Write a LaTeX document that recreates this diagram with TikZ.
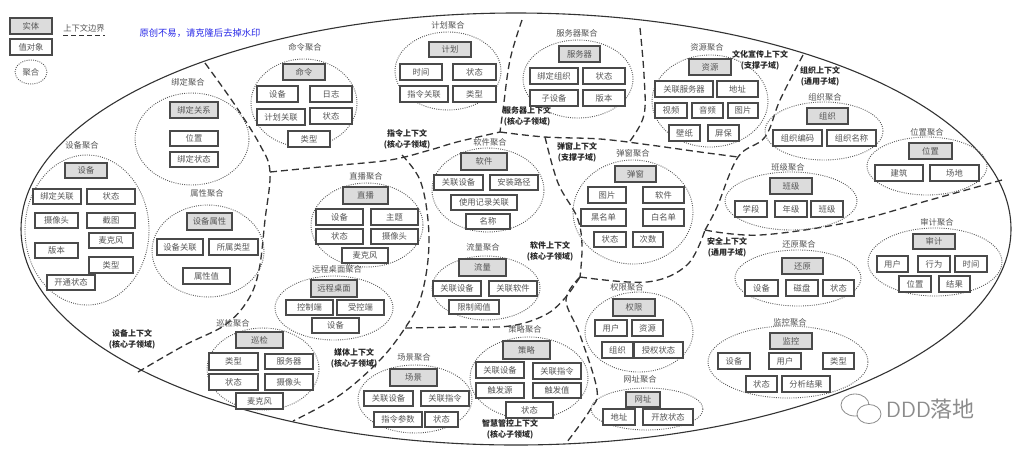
\documentclass[tikz,border=0pt]{standalone}
\usepackage{fontspec}
\newfontfamily\cjk{Noto Sans CJK SC}
\usetikzlibrary{shapes.geometric}
\definecolor{boxline}{HTML}{4A4A4A}
\definecolor{entfill}{HTML}{DCDCDC}
\definecolor{txt}{HTML}{555555}
\definecolor{blu}{HTML}{2A2AE8}
\tikzset{
  bxbase/.style={draw=boxline, line width=1.3pt, inner sep=0pt, text=txt, font=\cjk\fontsize{8.3}{9}\selectfont},
  ent/.style={bxbase, fill=entfill},
  vo/.style={bxbase, fill=white},
  agg/.style={draw=black!65, line width=0.9pt, dash pattern=on 0.9pt off 1.3pt},
  ctx/.style={draw=black!80, line width=1.3pt, dash pattern=on 7pt off 4pt},
  outer/.style={draw=black!80, line width=1.1pt},
  alab/.style={text=txt, font=\cjk\fontsize{8.3}{9}\selectfont, inner sep=0pt},
  clab/.style={text=black!85, font=\cjk\bfseries\fontsize{8}{11}\selectfont, align=center, inner sep=0pt}
}
\newcommand{\bx}[7]{%
  \pgfmathsetmacro\bw{#5-#3}\pgfmathsetmacro\bh{#6-#4}%
  \pgfmathsetmacro\bcx{(#3+#5)/2}\pgfmathsetmacro\bcy{(#4+#6)/2}%
  \node[#1, minimum width=\bw pt, minimum height=\bh pt] (#2) at (\bcx,\bcy) {#7};}
\begin{document}
\begin{tikzpicture}[x=1pt,y=-1pt]
\useasboundingbox (0,0) rectangle (1024,456);
\fill[white] (0,0) rectangle (1024,456);

% legend
\bx{ent}{lg1}{10}{18}{52}{34}{实体}
\bx{vo}{lg2}{10}{39}{52}{55}{值对象}
\draw[agg] (31,72) ellipse [x radius=16, y radius=12];
\node[alab] (lg3) at (31,72) {聚合};
\node[alab] (lg4) at (84,28) {上下文边界};
\draw[ctx, line width=1pt, dash pattern=on 5pt off 3pt] (63,35) -- (105,35);
\node[text=blu, font=\cjk\fontsize{9.3}{10}\selectfont, inner sep=0pt] (wm1) at (200,33) {原创不易，请克隆后去掉水印};

% outer ellipse
\draw[outer] (516,229) ellipse [x radius=495, y radius=216];

% context boundaries
\draw[ctx] plot[smooth, tension=0.6] coordinates {(205,63) (235,105) (260,145) (270,172) (265,220) (259,270) (248,300) (225,325) (185,345) (138,372)};
\draw[ctx] plot[smooth, tension=0.6] coordinates {(270,172) (330,166) (390,160) (430,150) (457,142) (500,132)};
\draw[ctx] plot[smooth, tension=0.6] coordinates {(522,20) (510,60) (503,110) (500,132)};
\draw[ctx] plot[smooth, tension=0.6] coordinates {(500,132) (545,137) (600,139) (650,145) (700,152) (738,157)};
\draw[ctx] plot[smooth, tension=0.6] coordinates {(640,28) (644,75) (644,115) (630,141)};
\draw[ctx] plot[smooth, tension=0.6] coordinates {(402,155) (420,180) (428,220) (428,260) (420,300) (405,328) (380,360) (340,395) (293,421)};
\draw[ctx] plot[smooth, tension=0.6] coordinates {(405,328) (460,327) (510,326) (545,315) (565,298) (580,277)};
\draw[ctx] plot[smooth, tension=0.6] coordinates {(545,137) (558,183) (577,217) (582,245) (580,277)};
\draw[ctx] plot[smooth, tension=0.6] coordinates {(580,277) (566,300) (580,335) (597,390) (590,410) (567,442)};
\draw[ctx] plot[smooth, tension=0.6] coordinates {(580,277) (647,282) (687,265) (705,230)};
\draw[ctx] plot[smooth, tension=0.6] coordinates {(803,55) (780,100) (765,137) (738,157) (717,207) (705,230)};
\draw[ctx] plot[smooth, tension=0.6] coordinates {(705,230) (760,235) (850,222) (930,200) (1002,180)};

% context labels
\node[clab] (c1) at (132,339) {设备上下文\\(核心子领域)};
\node[clab] (c2) at (407,139) {指令上下文\\(核心子领域)};
\node[clab] (c3) at (527,116) {服务器上下文\\(核心子领域)};
\node[clab] (c4) at (760,60) {文化宣传上下文\\(支撑子域)};
\node[clab] (c5) at (820,76) {组织上下文\\(通用子域)};
\node[clab] (c6) at (577,152) {弹窗上下文\\(支撑子域)};
\node[clab] (c7) at (550,251) {软件上下文\\(核心子领域)};
\node[clab] (c8) at (727,247) {安全上下文\\(通用子域)};
\node[clab] (c9) at (354,358) {媒体上下文\\(核心子领域)};
\node[clab] (c10) at (510,429) {智慧管控上下文\\(核心子领域)};

% 绑定聚合
\draw[agg] (192,139) ellipse [x radius=57, y radius=46];
\node[alab] (a1) at (188,82) {绑定聚合};
\bx{ent}{a1e}{170}{102}{218}{118}{绑定关系}
\bx{vo}{a1a}{170}{131}{218}{146}{位置}
\bx{vo}{a1b}{170}{152}{218}{167}{绑定状态}

% 设备聚合
\draw[agg] (87,230) ellipse [x radius=62, y radius=75];
\node[alab] (a2) at (82,145) {设备聚合};
\bx{ent}{a2e}{65}{163}{107}{178}{设备}
\bx{vo}{a2a}{33}{189}{81}{204}{绑定关联}
\bx{vo}{a2b}{87}{189}{135}{204}{状态}
\bx{vo}{a2c}{35}{213}{78}{228}{摄像头}
\bx{vo}{a2d}{87}{213}{135}{228}{截图}
\bx{vo}{a2f}{89}{233}{133}{248}{麦克风}
\bx{vo}{a2g}{35}{243}{78}{258}{版本}
\bx{vo}{a2h}{89}{257}{133}{273}{类型}
\bx{vo}{a2i}{47}{275}{95}{290}{开通状态}

% 属性聚合
\draw[agg] (208,251) ellipse [x radius=56, y radius=46];
\node[alab] (a3) at (207,193) {属性聚合};
\bx{ent}{a3e}{187}{213}{232}{230}{设备属性}
\bx{vo}{a3a}{157}{239}{203}{255}{设备关联}
\bx{vo}{a3b}{209}{239}{258}{255}{所属类型}
\bx{vo}{a3c}{183}{268}{230}{284}{属性值}

% 命令聚合
\draw[agg] (304,103) ellipse [x radius=53, y radius=44];
\node[alab] (a4) at (305,47) {命令聚合};
\bx{ent}{a4e}{283}{64}{325}{80}{命令}
\bx{vo}{a4a}{257}{86}{298}{102}{设备}
\bx{vo}{a4b}{310}{86}{352}{102}{日志}
\bx{vo}{a4c}{257}{109}{305}{125}{计划关联}
\bx{vo}{a4d}{310}{108}{352}{124}{状态}
\bx{vo}{a4f}{288}{131}{330}{147}{类型}

% 计划聚合
\draw[agg] (448,71) ellipse [x radius=53, y radius=39];
\node[alab] (a5) at (448,25) {计划聚合};
\bx{ent}{a5e}{429}{42}{471}{57}{计划}
\bx{vo}{a5a}{400}{64}{442}{80}{时间}
\bx{vo}{a5b}{453}{64}{496}{80}{状态}
\bx{vo}{a5c}{400}{86}{448}{102}{指令关联}
\bx{vo}{a5d}{453}{86}{496}{102}{类型}

% 服务器聚合
\draw[agg] (578,79) ellipse [x radius=55, y radius=39];
\node[alab] (a6) at (577,33) {服务器聚合};
\bx{ent}{a6e}{559}{46}{600}{62}{服务器}
\bx{vo}{a6a}{530}{68}{578}{84}{绑定组织}
\bx{vo}{a6b}{583}{68}{625}{84}{状态}
\bx{vo}{a6c}{530}{90}{578}{106}{子设备}
\bx{vo}{a6d}{583}{90}{625}{106}{版本}

% 资源聚合
\draw[agg] (710,101) ellipse [x radius=58, y radius=46];
\node[alab] (a7) at (707,47) {资源聚合};
\bx{ent}{a7e}{689}{59}{731}{75}{资源}
\bx{vo}{a7a}{655}{81}{713}{97}{关联服务器}
\bx{vo}{a7b}{717}{81}{758}{97}{地址}
\bx{vo}{a7c}{655}{103}{687}{118}{视频}
\bx{vo}{a7d}{692}{103}{723}{118}{音频}
\bx{vo}{a7f}{728}{103}{758}{118}{图片}
\bx{vo}{a7g}{669}{125}{700}{141}{壁纸}
\bx{vo}{a7h}{708}{125}{739}{141}{屏保}

% 组织聚合
\draw[agg] (824,131) ellipse [x radius=59, y radius=29];
\node[alab] (a8) at (825,97) {组织聚合};
\bx{ent}{a8e}{807}{108}{848}{124}{组织}
\bx{vo}{a8a}{773}{130}{822}{146}{组织编码}
\bx{vo}{a8b}{827}{130}{876}{146}{组织名称}

% 位置聚合
\draw[agg] (927,166) ellipse [x radius=60, y radius=29];
\node[alab] (a9) at (927,132) {位置聚合};
\bx{ent}{a9e}{909}{143}{952}{159}{位置}
\bx{vo}{a9a}{875}{165}{923}{181}{建筑}
\bx{vo}{a9b}{930}{165}{979}{181}{场地}

% 班级聚合
\draw[agg] (791,201) ellipse [x radius=66, y radius=29];
\node[alab] (a10) at (788,167) {班级聚合};
\bx{ent}{a10e}{770}{178}{812}{194}{班级}
\bx{vo}{a10a}{735}{201}{767}{217}{学段}
\bx{vo}{a10b}{775}{201}{807}{217}{年级}
\bx{vo}{a10c}{811}{201}{843}{217}{班级}

% 审计聚合
\draw[agg] (935,262) ellipse [x radius=67, y radius=34];
\node[alab] (a11) at (937,222) {审计聚合};
\bx{ent}{a11e}{913}{234}{955}{249}{审计}
\bx{vo}{a11a}{877}{256}{908}{272}{用户}
\bx{vo}{a11b}{918}{256}{950}{272}{行为}
\bx{vo}{a11c}{955}{256}{987}{272}{时间}
\bx{vo}{a11d}{899}{276}{931}{292}{位置}
\bx{vo}{a11f}{939}{276}{970}{292}{结果}

% 还原聚合
\draw[agg] (798,278) ellipse [x radius=63, y radius=28];
\node[alab] (a12) at (799,244) {还原聚合};
\bx{ent}{a12e}{782}{258}{823}{274}{还原}
\bx{vo}{a12a}{745}{280}{778}{296}{设备}
\bx{vo}{a12b}{786}{280}{818}{296}{磁盘}
\bx{vo}{a12c}{823}{280}{854}{296}{状态}

% 监控聚合
\draw[agg] (788,362) ellipse [x radius=80, y radius=36];
\node[alab] (a13) at (790,322) {监控聚合};
\bx{ent}{a13e}{770}{333}{812}{349}{监控}
\bx{vo}{a13a}{718}{353}{750}{369}{设备}
\bx{vo}{a13b}{769}{353}{801}{369}{用户}
\bx{vo}{a13c}{823}{353}{854}{369}{类型}
\bx{vo}{a13d}{746}{376}{777}{392}{状态}
\bx{vo}{a13f}{782}{376}{830}{392}{分析结果}

% 权限聚合
\draw[agg] (639,332) ellipse [x radius=54, y radius=40];
\node[alab] (a14) at (627,287) {权限聚合};
\bx{ent}{a14e}{613}{299}{655}{316}{权限}
\bx{vo}{a14a}{595}{320}{627}{336}{用户}
\bx{vo}{a14b}{632}{320}{663}{336}{资源}
\bx{vo}{a14c}{602}{342}{633}{358}{组织}
\bx{vo}{a14d}{634}{342}{683}{358}{授权状态}

% 网址聚合
\draw[agg] (647,409) ellipse [x radius=56, y radius=21];
\node[alab] (a15) at (640,379) {网址聚合};
\bx{ent}{a15e}{626}{392}{660}{407}{网址}
\bx{vo}{a15a}{603}{409}{635}{425}{地址}
\bx{vo}{a15b}{643}{409}{693}{425}{开放状态}

% 策略聚合
\draw[agg] (529,378) ellipse [x radius=59, y radius=41];
\node[alab] (a16) at (525,329) {策略聚合};
\bx{ent}{a16e}{503}{341}{550}{359}{策略}
\bx{vo}{a16a}{476}{362}{524}{378}{关联设备}
\bx{vo}{a16b}{533}{363}{581}{379}{关联指令}
\bx{vo}{a16c}{476}{383}{524}{398}{触发源}
\bx{vo}{a16d}{533}{383}{581}{398}{触发值}
\bx{vo}{a16f}{506}{402}{553}{418}{状态}

% 场景聚合
\draw[agg] (415,399) ellipse [x radius=57, y radius=34];
\node[alab] (a17) at (414,357) {场景聚合};
\bx{ent}{a17e}{390}{369}{437}{386}{场景}
\bx{vo}{a17a}{364}{391}{413}{406}{关联设备}
\bx{vo}{a17b}{421}{391}{469}{406}{关联指令}
\bx{vo}{a17c}{374}{412}{422}{427}{指令参数}
\bx{vo}{a17d}{425}{412}{458}{427}{状态}

% 巡检聚合
\draw[agg] (263,369) ellipse [x radius=56, y radius=41];
\node[alab] (a18) at (233,323) {巡检聚合};
\bx{ent}{a18e}{236}{332}{283}{348}{巡检}
\bx{vo}{a18a}{209}{353}{258}{370}{类型}
\bx{vo}{a18b}{265}{354}{313}{369}{服务器}
\bx{vo}{a18c}{209}{374}{258}{390}{状态}
\bx{vo}{a18d}{265}{374}{313}{390}{摄像头}
\bx{vo}{a18f}{236}{393}{283}{409}{麦克风}

% 远程桌面聚合
\draw[agg] (334,308) ellipse [x radius=59, y radius=32];
\node[alab] (a19) at (337,269) {远程桌面聚合};
\bx{ent}{a19e}{311}{280}{357}{297}{远程桌面}
\bx{vo}{a19a}{286}{300}{333}{315}{控制端}
\bx{vo}{a19b}{337}{300}{384}{315}{受控端}
\bx{vo}{a19c}{312}{318}{359}{333}{设备}

% 直播聚合
\draw[agg] (367,225) ellipse [x radius=56, y radius=42];
\node[alab] (a20) at (366,176) {直播聚合};
\bx{ent}{a20e}{343}{187}{388}{204}{直播}
\bx{vo}{a20a}{316}{209}{363}{225}{设备}
\bx{vo}{a20b}{371}{209}{418}{225}{主题}
\bx{vo}{a20c}{316}{229}{363}{244}{状态}
\bx{vo}{a20d}{371}{229}{418}{244}{摄像头}
\bx{vo}{a20f}{342}{248}{388}{263}{麦克风}

% 软件聚合
\draw[agg] (488,190) ellipse [x radius=56, y radius=42];
\node[alab] (a21) at (490,142) {软件聚合};
\bx{ent}{a21e}{461}{153}{507}{170}{软件}
\bx{vo}{a21a}{434}{175}{483}{190}{关联设备}
\bx{vo}{a21b}{490}{175}{538}{190}{安装路径}
\bx{vo}{a21c}{451}{195}{517}{210}{使用记录关联}
\bx{vo}{a21d}{466}{214}{510}{229}{名称}

% 流量聚合
\draw[agg] (486,288) ellipse [x radius=54, y radius=32];
\node[alab] (a22) at (483,247) {流量聚合};
\bx{ent}{a22e}{459}{259}{506}{276}{流量}
\bx{vo}{a22a}{433}{281}{481}{296}{关联设备}
\bx{vo}{a22b}{489}{281}{537}{296}{关联软件}
\bx{vo}{a22c}{449}{300}{499}{314}{限制阈值}

% 弹窗聚合
\draw[agg] (633,212) ellipse [x radius=60, y radius=52];
\node[alab] (a23) at (633,153) {弹窗聚合};
\bx{ent}{a23e}{615}{166}{656}{182}{弹窗}
\bx{vo}{a23a}{588}{187}{626}{203}{图片}
\bx{vo}{a23b}{643}{187}{684}{203}{软件}
\bx{vo}{a23c}{581}{209}{626}{226}{黑名单}
\bx{vo}{a23d}{643}{209}{684}{226}{白名单}
\bx{vo}{a23f}{594}{232}{626}{247}{状态}
\bx{vo}{a23g}{633}{232}{663}{247}{次数}

% watermark
\draw[black!45, line width=0.8pt, fill=white] (855,405) ellipse [x radius=14, y radius=11];
\draw[black!45, line width=0.8pt, fill=white] (869,414) ellipse [x radius=12, y radius=9.5];
\node[text=black!45, font=\fontsize{22}{24}\selectfont\sffamily, inner sep=0pt, anchor=west] (wm2) at (886,409) {DDD{\cjk 落地}};
\end{tikzpicture}
\end{document}
